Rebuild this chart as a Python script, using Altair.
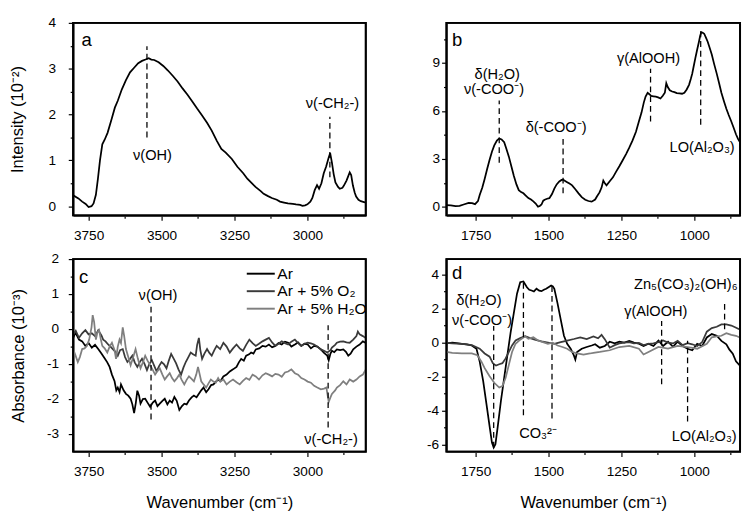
import altair as alt
import pandas as pd

FONT = "Liberation Sans"

# ---------------- panel a : Raman-like intensity (10^-2) ----------------
a_wn = [3803, 3785, 3772, 3760, 3750, 3740, 3733, 3725, 3718, 3711, 3703, 3695, 3685, 3672, 3660,
        3650, 3636, 3622, 3608, 3594, 3580, 3567, 3555, 3544, 3535, 3525, 3510, 3494, 3478, 3461,
        3445, 3428, 3411, 3394, 3378, 3361, 3344, 3328, 3310, 3295, 3280, 3259, 3240, 3220, 3206,
        3190, 3178, 3160, 3150, 3135, 3122, 3105, 3094, 3080, 3067, 3050, 3039, 3025, 3017, 3008,
        3000, 2990, 2983, 2975, 2967, 2960, 2952, 2944, 2936, 2928, 2922, 2916, 2910, 2904, 2895,
        2889, 2880, 2875, 2866, 2861, 2855, 2850, 2844, 2838, 2833, 2825, 2817, 2806, 2801]
a_int = [0.24, 0.17, 0.10, 0.05, -0.02, 0.0, 0.06, 0.25, 0.6, 1.0, 1.35, 1.45, 1.6, 1.88, 2.15,
         2.3, 2.55, 2.75, 2.92, 3.02, 3.12, 3.17, 3.2, 3.23, 3.2, 3.19, 3.14, 3.06, 2.96, 2.84,
         2.72, 2.57, 2.43, 2.28, 2.13, 1.98, 1.82, 1.65, 1.42, 1.25, 1.17, 1.03, 0.86, 0.72, 0.6,
         0.5, 0.42, 0.33, 0.27, 0.22, 0.18, 0.14, 0.1, 0.08, 0.06, 0.05, 0.04, 0.03, 0.01, 0.02,
         0.04, 0.1, 0.18, 0.35, 0.46, 0.38, 0.5, 0.72, 0.86, 1.04, 1.16, 0.95, 0.7, 0.52, 0.42,
         0.38, 0.40, 0.45, 0.56, 0.64, 0.74, 0.68, 0.45, 0.3, 0.21, 0.14, 0.11, 0.09, 0.08]

# ---------------- panel b ----------------
b_wn = [1850, 1835, 1819, 1805, 1791, 1774, 1762, 1752, 1742, 1736, 1727, 1719, 1710, 1702, 1694,
        1686, 1677, 1669, 1661, 1652, 1644, 1636, 1627, 1619, 1610, 1602, 1594, 1586, 1578, 1569,
        1560, 1552, 1544, 1536, 1530, 1524, 1518, 1513, 1505, 1497, 1488, 1480, 1472, 1463, 1455,
        1450, 1443, 1436, 1428, 1419, 1408, 1397, 1386, 1374, 1363, 1352, 1340, 1334, 1325, 1318,
        1312, 1306, 1301, 1290, 1279, 1268, 1257, 1246, 1234, 1223, 1212, 1200, 1190, 1181, 1173,
        1167, 1160, 1154, 1148, 1140, 1132, 1124, 1116, 1108, 1101, 1096, 1091, 1084, 1076, 1068,
        1060, 1051, 1042, 1034, 1026, 1018, 1012, 1007, 1002, 996, 990, 984, 980, 976, 971,
        966, 960, 954, 947, 940, 932, 923, 915, 907, 898, 890, 882, 873, 865, 857,
        850, 843]
b_int = [0.1, 0.08, 0.04, 0.06, 0.14, 0.24, 0.22, 0.16, 0.35, 0.74, 1.2, 1.74, 2.4, 2.94, 3.45,
         3.84, 4.15, 4.28, 4.22, 4.04, 3.6, 3.14, 2.5, 1.94, 1.4, 1.04, 0.92, 0.84, 0.7, 0.54,
         0.45, 0.34, 0.2, 0.0, 0.05, 0.14, 0.38, 0.44, 0.5, 0.54, 0.8, 1.14, 1.4, 1.58, 1.68,
         1.7, 1.62, 1.54, 1.45, 1.34, 1.1, 0.84, 0.6, 0.44, 0.36, 0.32, 0.45, 0.64, 0.9, 1.2,
         1.64, 1.45, 1.34, 1.6, 1.84, 2.2, 2.54, 2.9, 3.3, 3.7, 4.14, 4.7, 5.34, 5.9, 6.54,
         6.9, 7.14, 7.05, 6.94, 6.92, 6.9, 6.85, 6.78, 6.95, 7.14, 7.74, 7.5, 7.3, 7.22, 7.18,
         7.12, 7.1, 7.08, 7.14, 7.35, 7.64, 8.0, 8.34, 8.8, 9.34, 9.85, 10.34, 10.7, 10.94, 10.9,
         10.84, 10.6, 10.34, 9.95, 9.54, 8.95, 8.34, 7.75, 7.14, 6.6, 6.14, 5.75, 5.34, 4.95, 4.54,
         4.25, 4.04]

# ---------------- panel c : absorbance (10^-3), three atmospheres ----------------
c_ar_wn = [3803, 3795, 3783, 3772, 3761, 3750, 3739, 3728, 3717, 3706, 3694, 3686, 3678, 3670, 3661,
           3655, 3650, 3644, 3639, 3630, 3622, 3614, 3606, 3600, 3594, 3588, 3583, 3577, 3572, 3564,
           3556, 3548, 3539, 3530, 3522, 3514, 3506, 3497, 3489, 3480, 3472, 3464, 3456, 3448, 3439,
           3430, 3422, 3414, 3406, 3397, 3389, 3380, 3372, 3364, 3356, 3347, 3339, 3330, 3322, 3314,
           3306, 3298, 3288, 3277, 3266, 3255, 3243, 3235, 3227, 3218, 3210, 3200, 3193, 3185, 3177,
           3165, 3154, 3143, 3132, 3121, 3110, 3099, 3088, 3077, 3066, 3055, 3043, 3032, 3021, 3010,
           2999, 2988, 2977, 2966, 2954, 2943, 2932, 2927, 2921, 2916, 2908, 2899, 2888, 2877, 2868,
           2860, 2852, 2843, 2832, 2821, 2810, 2801]
c_ar = [-0.25, -0.1, -0.30, -0.35, -0.48, -0.4, -0.53, -0.45, -0.57, -0.7, -0.85, -0.95, -1.08, -1.3, -1.49,
        -1.75, -1.67, -1.8, -1.58, -1.75, -1.85, -1.9, -1.99, -2.15, -2.4, -2.1, -1.76, -1.9, -2.13, -2.0,
        -1.99, -2.1, -2.22, -2.1, -2.04, -2.2, -2.13, -2.05, -1.99, -2.15, -2.04, -2.1, -1.94, -2.05, -2.31,
        -2.2, -2.13, -2.15, -2.04, -1.95, -1.9, -1.95, -1.85, -1.75, -1.67, -1.8, -1.72, -1.6, -1.58, -1.5,
        -1.45, -1.49, -1.35, -1.3, -1.21, -1.15, -1.08, -0.95, -0.85, -0.9, -0.76, -0.72, -0.67, -0.7, -0.58,
        -0.55, -0.48, -0.5, -0.44, -0.52, -0.48, -0.4, -0.44, -0.36, -0.39, -0.5, -0.44, -0.38, -0.48, -0.42,
        -0.44, -0.55, -0.48, -0.5, -0.58, -0.68, -0.76, -0.89, -0.7, -0.62, -0.66, -0.58, -0.6, -0.58, -0.65,
        -0.76, -0.7, -0.58, -0.5, -0.44, -0.35, -0.39]

c_o2_wn = [3803, 3794, 3783, 3772, 3761, 3750, 3739, 3728, 3717, 3706, 3700, 3692, 3683, 3675, 3667,
           3658, 3650, 3642, 3633, 3625, 3617, 3608, 3600, 3592, 3583, 3575, 3567, 3558, 3550, 3542,
           3533, 3525, 3517, 3508, 3500, 3492, 3483, 3475, 3467, 3458, 3450, 3442, 3433, 3425, 3417,
           3408, 3400, 3392, 3383, 3378, 3372, 3367, 3361, 3353, 3344, 3336, 3328, 3319, 3311, 3299,
           3288, 3277, 3266, 3255, 3243, 3232, 3221, 3210, 3199, 3188, 3177, 3166, 3154, 3143, 3132,
           3121, 3110, 3099, 3088, 3077, 3066, 3055, 3043, 3032, 3021, 3010, 2999, 2988, 2977, 2966,
           2954, 2943, 2932, 2921, 2916, 2905, 2899, 2888, 2877, 2866, 2855, 2843, 2832, 2827, 2821,
           2810, 2801]
c_o2 = [-0.16, -0.05, -0.25, -0.12, -0.03, -0.15, -0.12, -0.2, -0.03, -0.18, -0.30, -0.35, -0.44, -0.5, -0.57,
        -0.65, -0.76, -0.6, -0.57, -0.8, -0.94, -0.85, -0.76, -0.95, -1.08, -0.95, -0.85, -1.0, -1.17, -1.0,
        -0.89, -1.05, -1.21, -1.05, -0.94, -1.0, -1.12, -0.9, -0.71, -0.85, -0.98, -1.15, -1.30, -1.1, -0.94,
        -0.8, -0.67, -0.72, -0.76, -0.45, -0.25, -0.6, -0.85, -0.7, -0.57, -0.68, -0.76, -0.6, -0.48, -0.57,
        -0.39, -0.5, -0.67, -0.55, -0.44, -0.55, -0.62, -0.45, -0.30, -0.4, -0.48, -0.42, -0.35, -0.3, -0.25,
        -0.38, -0.48, -0.42, -0.35, -0.4, -0.44, -0.36, -0.30, -0.4, -0.48, -0.42, -0.39, -0.41, -0.44, -0.5,
        -0.58, -0.62, -0.67, -0.6, -0.53, -0.45, -0.39, -0.36, -0.35, -0.38, -0.39, -0.30, -0.2, -0.07, -0.15,
        -0.2, -0.25]

c_h2o_wn = [3803, 3795, 3787, 3780, 3772, 3764, 3756, 3748, 3740, 3736, 3731, 3725, 3720, 3714, 3708,
            3703, 3695, 3686, 3678, 3670, 3661, 3656, 3650, 3644, 3639, 3633, 3628, 3622, 3614, 3606,
            3597, 3589, 3581, 3572, 3564, 3556, 3548, 3539, 3531, 3522, 3514, 3506, 3497, 3489, 3481,
            3472, 3464, 3456, 3447, 3439, 3431, 3422, 3414, 3406, 3397, 3389, 3381, 3375, 3369, 3364,
            3356, 3347, 3339, 3331, 3322, 3314, 3306, 3299, 3288, 3277, 3266, 3255, 3243, 3232, 3221,
            3210, 3199, 3188, 3177, 3166, 3154, 3143, 3132, 3121, 3110, 3099, 3088, 3077, 3066, 3055,
            3043, 3032, 3021, 3010, 2999, 2988, 2977, 2966, 2954, 2943, 2935, 2927, 2921, 2916, 2905,
            2899, 2888, 2877, 2866, 2855, 2843, 2832, 2821, 2810, 2801]
c_h2o = [-0.57, -0.75, -0.94, -0.8, -0.57, -0.55, -0.48, -0.3, 0.05, 0.4, 0.2, -0.30, -0.1, -0.03, -0.3,
         -0.48, -0.55, -0.67, -0.5, -0.39, -0.6, -0.85, -0.5, -0.3, -0.4, 0.05, -0.2, -0.57, -0.8, -1.03,
         -0.8, -0.57, -0.85, -1.12, -0.95, -0.76, -0.9, -1.03, -1.15, -1.30, -1.2, -1.12, -1.3, -1.44, -1.35,
         -1.26, -1.4, -1.49, -1.4, -1.30, -1.45, -1.58, -1.45, -1.35, -1.42, -1.49, -1.3, -1.08, -1.3, -1.49,
         -1.58, -1.67, -1.55, -1.44, -1.5, -1.53, -1.40, -1.5, -1.44, -1.58, -1.5, -1.44, -1.52, -1.58, -1.48,
         -1.40, -1.45, -1.30, -1.35, -1.44, -1.32, -1.26, -1.3, -1.35, -1.28, -1.30, -1.36, -1.24, -1.21, -1.15,
         -1.26, -1.3, -1.4, -1.44, -1.5, -1.53, -1.62, -1.67, -1.72, -1.7, -1.67, -2.08, -1.95, -1.85, -1.75,
         -1.67, -1.6, -1.49, -1.58, -1.44, -1.5, -1.44, -1.35, -1.3, -1.17]

# ---------------- panel d ----------------
d_ar_wn = [1850, 1830, 1815, 1797, 1780, 1763, 1747, 1736, 1724, 1713, 1702, 1694, 1688, 1682, 1674,
           1663, 1652, 1641, 1630, 1619, 1608, 1597, 1586, 1574, 1566, 1558, 1550, 1541, 1532, 1524,
           1516, 1508, 1500, 1491, 1485, 1480, 1469, 1458, 1447, 1436, 1424, 1413, 1408, 1402, 1386,
           1369, 1352, 1340, 1324, 1307, 1290, 1273, 1257, 1240, 1223, 1207, 1190, 1174, 1157, 1140,
           1123, 1107, 1090, 1073, 1057, 1040, 1023, 1007, 990, 973, 957, 940, 923, 907, 890,
           880, 868, 857, 846, 843]
d_ar = [-0.05, 0.0, -0.03, -0.07, -0.1, -0.17, -0.36, -1.12, -2.26, -3.59, -4.92, -5.87, -6.16, -5.97, -4.92,
        -3.40, -2.07, -0.74, 0.59, 1.73, 2.87, 3.54, 3.59, 3.25, 3.1, 3.06, 3.0, 3.16, 3.05, 3.02,
        3.1, 3.16, 3.25, 3.35, 3.3, 3.16, 2.30, 1.35, 0.40, -0.07, -0.36, -0.75, -1.0, -0.55, -0.36,
        -0.26, -0.17, -0.1, -0.3, -0.2, 0.05, -0.05, 0.05, 0.0, 0.1, 0.0, -0.07, -0.2, -0.07, -0.2,
        0.12, -0.2, 0.05, -0.25, 0.05, -0.2, -0.36, -0.45, -0.07, -0.2, 0.3, 0.5, 0.4, 0.1, -0.1,
        -0.4, -0.65, -1.1, -1.31, -1.3]

d_o2_wn = [1850, 1830, 1797, 1763, 1736, 1719, 1702, 1691, 1680, 1669, 1658, 1647, 1636, 1625, 1613,
           1597, 1580, 1563, 1547, 1524, 1502, 1480, 1458, 1436, 1413, 1391, 1369, 1346, 1330, 1318,
           1307, 1290, 1273, 1257, 1240, 1223, 1207, 1190, 1174, 1157, 1140, 1123, 1107, 1090, 1073,
           1057, 1040, 1023, 1007, 990, 973, 957, 940, 923, 907, 890, 873, 860, 846]
d_o2 = [-0.02, -0.05, -0.07, -0.15, -0.36, -0.64, -0.83, -1.21, -1.35, -1.27, -1.21, -0.93, -0.55, -0.17, 0.12,
        0.26, 0.37, 0.26, 0.17, 0.07, 0.0, -0.07, 0.03, 0.12, 0.21, 0.31, 0.21, 0.36, 0.25, 0.45,
        0.2, -0.3, -0.15, -0.05, 0.0, 0.03, -0.05, -0.02, -0.15, -0.07, -0.05, 0.03, 0.12, 0.0, -0.05,
        0.1, -0.15, -0.03, -0.1, -0.2, 0.03, 0.64, 0.85, 0.93, 1.07, 1.07, 1.0, 0.9, 0.78]

d_h2o_wn = [1850, 1830, 1797, 1763, 1744, 1730, 1719, 1702, 1686, 1669, 1658, 1647, 1636, 1625, 1613,
            1597, 1580, 1569, 1552, 1536, 1519, 1502, 1486, 1469, 1452, 1436, 1419, 1402, 1380, 1358,
            1346, 1324, 1290, 1257, 1223, 1190, 1174, 1157, 1123, 1090, 1057, 1023, 990, 957, 940,
            923, 907, 890, 873, 857, 846]
d_h2o = [-0.55, -0.6, -0.64, -0.64, -0.74, -1.12, -1.50, -1.98, -2.36, -2.64, -2.55, -2.07, -1.31, -0.55, -0.07,
         0.17, 0.37, 0.22, 0.31, 0.12, 0.03, -0.07, 0.0, -0.17, -0.26, -0.36, -0.55, -0.64, -0.7, -0.64,
         -0.6, -0.55, -0.45, -0.26, -0.2, -0.36, -0.7, -0.55, -0.26, -0.36, -0.2, -0.26, -0.36, -0.07, 0.31,
         0.36, 0.4, 0.55, 0.45, 0.4, 0.31]

series_names = ["Ar", "Ar + 5% O₂", "Ar + 5% H₂O"]
series_colors = ["#000000", "#3a3a3a", "#7f7f7f"]

# ---------------- annotations (band positions in wavenumber / signal units) ----------------
a_band_wn = [3550, 2923]
a_band_lo = [1.5, 0.63]
a_band_hi = [3.49, 1.95]
a_note_text = ["ν(OH)", "ν(-CH₂-)"]
a_note_wn = [3531, 2914]
a_note_y = [1.12, 2.25]

b_band_wn = [1669, 1450, 1150, 978]
b_band_lo = [2.76, 0.84, 5.34, 5.14]
b_band_hi = [6.66, 4.24, 8.64, 11.14]
b_note_text = ["δ(H₂O)", "ν(-COO⁻)", "δ(-COO⁻)", "γ(AlOOH)", "LO(Al₂O₃)"]
b_note_wn = [1676, 1687, 1474, 1157, 973]
b_note_y = [8.3, 7.34, 5.0, 9.34, 3.74]

c_band_wn = [3536, 2929]
c_band_lo = [-2.58, -2.81]
c_band_hi = [0.70, 0.11]
c_note_text = ["ν(OH)", "ν(-CH₂-)"]
c_note_wn = [3512, 2919]
c_note_y = [0.98, -3.13]

d_band_wn = [1688, 1586, 1488, 1112, 1023, 896]
d_band_lo = [-6.16, -4.26, -4.45, -2.45, -4.64, 0.78]
d_band_hi = [0.97, 3.54, 3.35, 1.26, 0.11, 2.49]
d_note_text = ["δ(H₂O)", "ν(-COO⁻)", "CO₃²⁻", "γ(AlOOH)", "LO(Al₂O₃)", "Zn₅(CO₃)₂(OH)₆"]
d_note_wn = [1739, 1728, 1536, 1132, 966, 1029]
d_note_y = [2.5, 1.31, -5.3, 1.83, -5.49, 3.45]

panel_letters = ["a", "b", "c", "d"]
letter_wn = [3757, 1813, 3767, 1813]
letter_y = [3.63, 10.44, 1.48, 4.1]

x_hi_dom = [2800, 3803]
x_lo_dom = [843, 1850]
x_hi_major = [3750, 3500, 3250, 3000]
x_hi_minor = [3625, 3375, 3125, 2875]
x_lo_major = [1750, 1500, 1250, 1000]
x_lo_minor = [1625, 1375, 1125, 875]

W_TITLE = "Wavenumber (cm⁻¹)"
PANEL_H = 198
DOM = dict(domain=True, domainColor="black", domainWidth=1.8)


def series_df(pairs):
    rows = []
    for name, wn, vals in pairs:
        for w, v in zip(wn, vals):
            rows.append({"w": w, "v": v, "s": name})
    return pd.DataFrame(rows)


def panel(lines_df, colored, xdom, ydom, xmaj, xmin, ymaj, ymin,
          band_wn, band_lo, band_hi, note_text, note_wn, note_y, letter_idx,
          xtitle, ytitle, ylabpad, ytitlepad, width, legend=None):
    xs = alt.Scale(domain=xdom, reverse=True, nice=False, zero=False)
    ys = alt.Scale(domain=ydom, nice=False, zero=False)
    x_axis = alt.Axis(orient="bottom", values=xmaj, labelExpr="'' + datum.value",
                      labelPadding=9, titlePadding=16, **DOM)
    y_axis = alt.Axis(orient="left", values=ymaj, labelExpr="'' + datum.value",
                      labelPadding=ylabpad, titlePadding=ytitlepad, **DOM)
    enc = dict(
        x=alt.X("w:Q", scale=xs, axis=x_axis, title=xtitle),
        y=alt.Y("v:Q", scale=ys, axis=y_axis, title=ytitle),
    )
    if colored:
        enc["color"] = alt.Color("s:N", scale=alt.Scale(domain=series_names, range=series_colors),
                                 legend=legend)
        lines = alt.Chart(lines_df).mark_line(strokeWidth=1.8, clip=True).encode(**enc)
    else:
        lines = alt.Chart(lines_df).mark_line(strokeWidth=1.8, color="black", clip=True).encode(**enc)

    bands = pd.DataFrame({"w": band_wn, "lo": band_lo, "hi": band_hi})
    rules = alt.Chart(bands).mark_rule(strokeDash=[6, 4], color="black", strokeWidth=1.3).encode(
        x=alt.X("w:Q", scale=xs, title=None,
                axis=alt.Axis(orient="bottom", values=xmin, labels=False, tickSize=3)),
        y=alt.Y("lo:Q", scale=ys, title=None,
                axis=alt.Axis(orient="left", values=ymin, labels=False, tickSize=3)),
        y2="hi:Q",
    )
    notes_df = pd.DataFrame({"w": note_wn, "v": note_y, "t": note_text})
    notes = alt.Chart(notes_df).mark_text(font=FONT, fontSize=15, color="black",
                                          align="center", baseline="middle").encode(
        x=alt.X("w:Q", scale=xs, axis=None),
        y=alt.Y("v:Q", scale=ys, axis=None),
        text="t:N",
    )
    let_df = pd.DataFrame({"w": [letter_wn[letter_idx]], "v": [letter_y[letter_idx]],
                           "t": [panel_letters[letter_idx]]})
    letter = alt.Chart(let_df).mark_text(font=FONT, fontSize=19, color="black",
                                         align="center", baseline="middle").encode(
        x=alt.X("w:Q", scale=xs, axis=None),
        y=alt.Y("v:Q", scale=ys, axis=None),
        text="t:N",
    )
    # black box around the plotting area (frame of the panel)
    frame = alt.Chart(pd.DataFrame({"k": [0]})).mark_rect(
        fillOpacity=0, stroke="black", strokeWidth=1.8
    ).encode(x=alt.value(0), x2=alt.value(width), y=alt.value(0), y2=alt.value(PANEL_H))
    return alt.layer(lines, rules, notes, letter, frame).resolve_axis(
        x="independent", y="independent").properties(width=width, height=PANEL_H)


a_df = series_df([("a", a_wn, a_int)])
b_df = series_df([("b", b_wn, b_int)])
c_df = series_df([(series_names[0], c_ar_wn, c_ar), (series_names[1], c_o2_wn, c_o2),
                  (series_names[2], c_h2o_wn, c_h2o)])
d_df = series_df([(series_names[0], d_ar_wn, d_ar), (series_names[1], d_o2_wn, d_o2),
                  (series_names[2], d_h2o_wn, d_h2o)])

legend_c = alt.Legend(title=None, orient="none", legendX=183, legendY=5,
                      symbolType="M-1.6,0H1.6", symbolSize=324, symbolStrokeWidth=2,
                      labelFont=FONT, labelFontSize=16, labelColor="black", labelOffset=7,
                      rowPadding=0, padding=0)

pa = panel(a_df, False, x_hi_dom, [-0.2, 4], x_hi_major, x_hi_minor,
           [0, 1, 2, 3, 4], [0.5, 1.5, 2.5, 3.5],
           a_band_wn, a_band_lo, a_band_hi, a_note_text, a_note_wn, a_note_y, 0,
           None, "Intensity (10⁻²)", 13, 22, 301)
pb = panel(b_df, False, x_lo_dom, [-0.54, 11.52], x_lo_major, x_lo_minor,
           [0, 3, 6, 9], [1.5, 4.5, 7.5, 10.5],
           b_band_wn, b_band_lo, b_band_hi, b_note_text, b_note_wn, b_note_y, 1,
           None, None, 2, 10, 302)
pc = panel(c_df, True, x_hi_dom, [-3.5, 2], x_hi_major, x_hi_minor,
           [-3, -2, -1, 0, 1, 2], [-2.5, -1.5, -0.5, 0.5, 1.5],
           c_band_wn, c_band_lo, c_band_hi, c_note_text, c_note_wn, c_note_y, 2,
           W_TITLE, "Absorbance (10⁻³)", 10, 20, 301, legend_c)
pd_ = panel(d_df, True, x_lo_dom, [-6.4, 4.9], x_lo_major, x_lo_minor,
            [-6, -4, -2, 0, 2, 4], [-5, -3, -1, 1, 3],
            d_band_wn, d_band_lo, d_band_hi, d_note_text, d_note_wn, d_note_y, 3,
            W_TITLE, None, 3, 10, 302, None)

chart = alt.concat(pa, pb, pc, pd_, columns=2).properties(
    spacing={"row": 8, "column": 58}, align="each", padding=0, background="white"
).resolve_scale(color="independent").resolve_legend(color="independent").configure_view(
    stroke="black", strokeWidth=2
).configure_axis(
    grid=False, tickColor="black", tickWidth=1.2, tickSize=5,
    labelFont=FONT, labelFontSize=14, labelColor="black",
    titleFont=FONT, titleFontSize=17, titleFontWeight="normal", titleColor="black"
)

chart.save("out.html", embed_options={"renderer": "svg", "actions": False})
